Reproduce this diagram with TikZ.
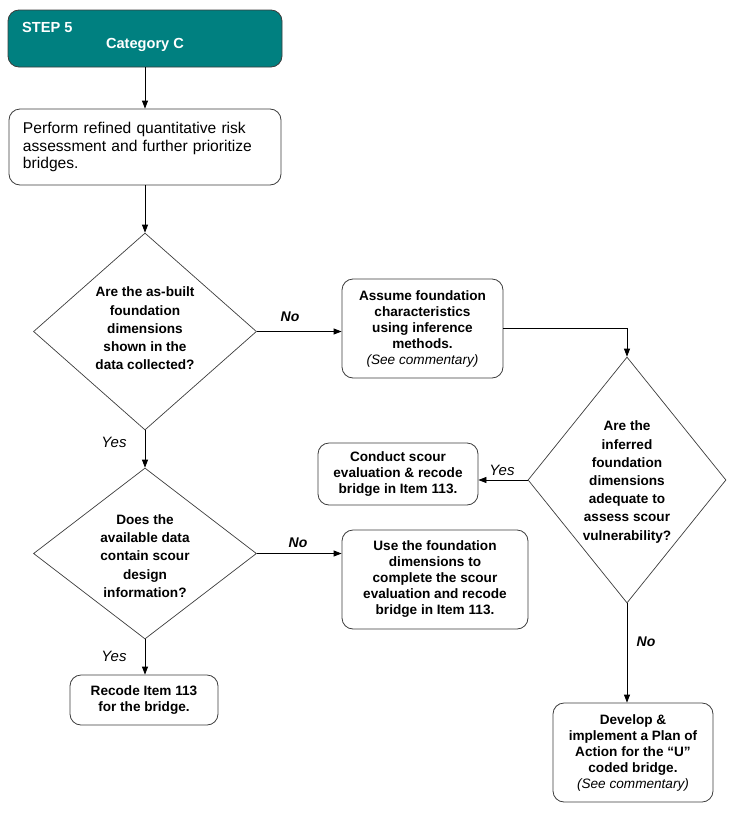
\documentclass[tikz,border=0pt]{standalone}
\usepackage{fontspec}
\setmainfont{Liberation Sans}
\usetikzlibrary{shapes.geometric,arrows.meta}
\definecolor{tealhdr}{RGB}{0,128,128}
\definecolor{edgec}{RGB}{60,60,60}
\begin{document}
\begin{tikzpicture}[x=1pt,y=-1pt,
 box/.style={draw=edgec, line width=0.8pt, rounded corners=11pt, fill=white, inner sep=0pt},
 btext/.style={align=center, font=\fontsize{13.6}{16}\selectfont\bfseries},
 dia/.style={diamond, draw=edgec, line width=0.7pt, inner sep=0pt},
 dtext/.style={align=center, font=\fontsize{13.6}{18.2}\selectfont\bfseries, inner sep=0pt},
 arr/.style={-{Triangle[length=8pt,width=6pt]}, line width=0.8pt},
 yeslbl/.style={font=\fontsize{15}{17}\selectfont\itshape},
 nolbl/.style={font=\fontsize{14}{16}\selectfont\bfseries\itshape},
 hdrtext/.style={font=\fontsize{14.6}{17}\selectfont\bfseries, text=white, inner sep=0pt},
]
\useasboundingbox (0,0) rectangle (732,814);

% header
\node[box, draw=edgec, fill=tealhdr, minimum width=274, minimum height=57] (hdr) at (145,38.5) {};
\node[hdrtext, anchor=west] (hdrs) at (22,27) {STEP 5};
\node[hdrtext] (hdrc) at (145,45) {Category C};

% first box
\node[box, minimum width=272, minimum height=76, text width=244, inner xsep=14pt, align=left,
      font=\fontsize{15.6}{17.5}\selectfont] (b2) at (145,147)
  {Perform refined quantitative risk\\assessment and further prioritize\\bridges.};

% diamonds
\node[dia, minimum width=223, minimum height=197] (d1) at (145,331.5) {};
\node[dtext] (d1t) at (145,328.5) {Are the as-built\\foundation\\dimensions\\shown in the\\data collected?};

\node[dia, minimum width=223, minimum height=171] (d3) at (145,553.5) {};
\node[dtext] (d3t) at (145,556) {Does the\\available data\\contain scour\\design\\information?};

\node[dia, minimum width=198, minimum height=246] (d2) at (627,480) {};
\node[dtext] (d2t) at (627,482) {Are the\\inferred\\foundation\\dimensions\\adequate to\\assess scour\\vulnerability?};

% boxes
\node[box, btext, minimum width=161, minimum height=99] (b3) at (422.5,328.5)
  {Assume foundation\\characteristics\\using inference\\methods.\\{\mdseries\itshape (See commentary)}};
\node[box, btext, minimum width=160, minimum height=62] (b4) at (398,474)
  {Conduct scour\\evaluation \& recode\\bridge in Item 113.};
\node[box, btext, minimum width=186, minimum height=99] (b5) at (435,579.5)
  {Use the foundation\\dimensions to\\complete the scour\\evaluation and recode\\bridge in Item 113.};
\node[box, btext, minimum width=148, minimum height=50] (b6) at (144,700)
  {Recode Item 113\\for the bridge.};
\node[box, btext, minimum width=160, minimum height=99] (b7) at (633,752.5)
  {Develop \&\\implement a Plan of\\Action for the “U”\\coded bridge.\\{\mdseries\itshape (See commentary)}};

% connectors
\draw[arr] (hdr.south) -- (hdr.south |- b2.north);
\draw[arr] (b2.south -| d1.north) -- (d1.north);
\draw[arr] (d1.east) -- (d1.east -| b3.west);
\draw[arr] (b3.east) -| (d2.north);
\draw[arr] (d2.west) -- (d2.west -| b4.east);
\draw[arr] (d1.south) -- (d3.north);
\draw[arr] (d3.east) -- (d3.east -| b5.west);
\draw[arr] (d3.south) -- (d3.south |- b6.north);
\draw[arr] (d2.south) -- (d2.south |- b7.north);

% labels
\node[nolbl] (l1) at (290,317) {No};
\node[yeslbl] (l2) at (114,442) {Yes};
\node[nolbl] (l3) at (298,543) {No};
\node[yeslbl] (l4) at (114,656) {Yes};
\node[yeslbl] (l5) at (502,470) {Yes};
\node[nolbl] (l6) at (646,642) {No};
\end{tikzpicture}
\end{document}
